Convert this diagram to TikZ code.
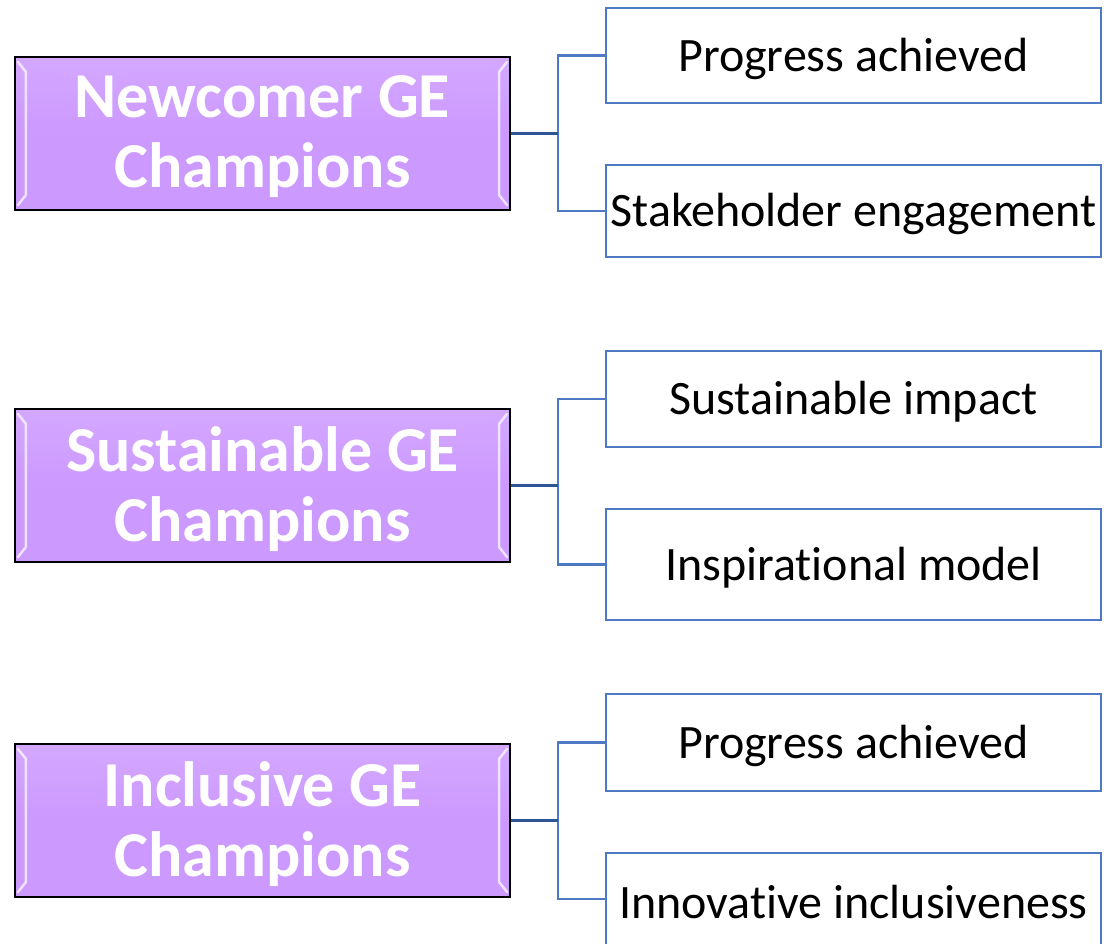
\documentclass[tikz,border=0pt]{standalone}
\usepackage{fontspec}
\setmainfont{Carlito}[Ligatures=NoCommon]
\definecolor{lav}{RGB}{204,153,255}
\definecolor{lavtop}{RGB}{212,168,255}
\definecolor{bluebox}{RGB}{79,121,196}
\definecolor{trunkblue}{RGB}{47,85,151}
\tikzset{
  lbox/.style={draw=black, line width=2.4pt, top color=lavtop, bottom color=lav,
    middle color=lav,
    minimum width=495pt, minimum height=153pt, inner sep=0pt, align=center},
  rbox/.style={draw=bluebox, line width=2.6pt, fill=white,
    minimum width=495pt, inner sep=0pt, align=center},
  rtext/.style={text=black, align=center, font=\fontsize{48}{52}\selectfont},
  trunk/.style={draw=trunkblue, line width=3.6pt},
  branch/.style={draw=bluebox, line width=2.6pt},
  bevel/.style={draw=white, opacity=0.7, line width=2.5pt, line cap=round},
  ltext/.style={text=white, align=center, font=\fontsize{64}{70}\selectfont\bfseries}
}
\begin{document}
\begin{tikzpicture}[x=1pt,y=-1pt]
\useasboundingbox (0,0) rectangle (1104,944);
% left boxes
\node[lbox] (L1) at (262.5,133.5) {};
\node[lbox] (L2) at (262.5,485.5) {};
\node[lbox] (L3) at (262.5,820.5) {};
% bevel highlights
\foreach \n in {L1,L2,L3}{
  \draw[bevel] ([shift={(4pt,-6pt)}]\n.north west) -- ([shift={(12pt,-16pt)}]\n.north west)
     -- ([shift={(12pt,16pt)}]\n.south west) -- ([shift={(4pt,6pt)}]\n.south west);
  \draw[bevel] ([shift={(-4pt,-6pt)}]\n.north east) -- ([shift={(-12pt,-16pt)}]\n.north east)
     -- ([shift={(-12pt,16pt)}]\n.south east) -- ([shift={(-4pt,6pt)}]\n.south east);
}
\node[ltext] (T1) at (262.5,137) {Newcomer GE\\Champions};
\node[ltext] (T2) at (262.5,489) {Sustainable GE\\Champions};
\node[ltext] (T3) at (262.5,824) {Inclusive GE\\Champions};
% right boxes
\node[rbox, minimum height=95pt] (R1) at (853.5,55.5) {};
\node[rbox, minimum height=92pt] (R2) at (853.5,211) {};
\node[rbox, minimum height=96pt] (R3) at (853.5,399) {};
\node[rbox, minimum height=111pt] (R4) at (853.5,564.5) {};
\node[rbox, minimum height=97pt] (R5) at (853.5,742.5) {};
\node[rbox, minimum height=92pt] (R6) at (853.5,899) {};
\node[rtext] (S1) at ([yshift=-3pt]R1.center) {Progress achieved};
\node[rtext] (S2) at ([yshift=-3pt]R2.center) {Stakeholder engagement};
\node[rtext] (S3) at ([yshift=-3pt]R3.center) {Sustainable impact};
\node[rtext] (S4) at ([yshift=-3pt]R4.center) {Inspirational model};
\node[rtext] (S5) at ([yshift=-3pt]R5.center) {Progress achieved};
\node[rtext] (S6) at ([yshift=-3pt]R6.center) {Innovative inclusiveness};
% junctions
\coordinate (J1) at (558,133.5);
\coordinate (J2) at (558,485.5);
\coordinate (J3) at (558,820.5);
\draw[branch] (R1.west) -| (J1);
\draw[branch] (R2.west) -| (J1);
\draw[branch] (R3.west) -| (J2);
\draw[branch] (R4.west) -| (J2);
\draw[branch] (R5.west) -| (J3);
\draw[branch] (R6.west) -| (J3);
\draw[trunk] (L1.east) -- (J1);
\draw[trunk] (L2.east) -- (J2);
\draw[trunk] (L3.east) -- (J3);
\end{tikzpicture}
\end{document}
